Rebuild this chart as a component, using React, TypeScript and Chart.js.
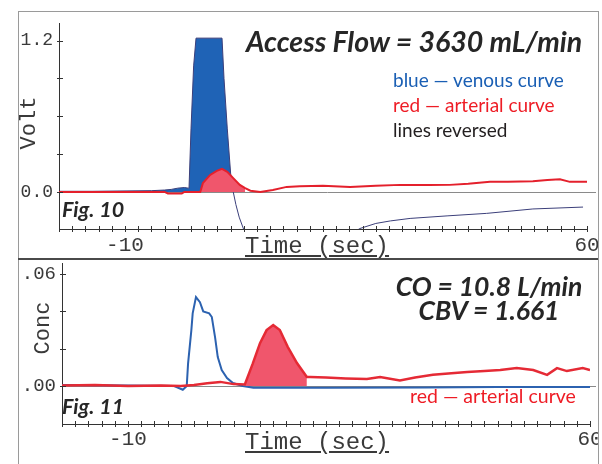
import React, { useEffect, useRef } from "react";
import { Chart, registerables } from "chart.js";

Chart.register(...registerables);

// ---------- data ----------
const X_TICKS = [-20, -18, -16, -14, -12, -10, -8, -6, -4, -2, 0, 2, 4, 6, 8, 10, 12, 14, 16, 18, 20, 22, 24, 26, 28, 30, 32, 34, 36, 38, 40, 42, 44, 46, 48, 50, 52, 54, 56, 58, 60];
const X_LABELS = [-10, 60];

const Y1_TICKS = [0, 0.3, 0.6, 0.9, 1.2];
const Y1_LABELS: Record<string, string> = { "0": "0.0", "1.2": "1.2" };
const Y2_TICKS = [0, 0.02, 0.04, 0.06];
const Y2_LABELS: Record<string, string> = { "0": ".00", "0.06": ".06" };

// Fig. 10 — venous (blue) curve, Volt
const VEN1_T = [-20, -15, -10, -6, -4, -3, -2, -1, -0.4, -0.3, 0.0, 0.4, 0.76, 4.7, 5.0, 5.5, 6.0, 6.2, 6.4, 6.8, 7.3, 8.0, 9.0, 12, 20, 24, 25.6, 28, 30.2, 33.2, 38.8, 44.8, 51.8, 59.4];
const VEN1_V = [0.005, 0.005, 0.008, 0.01, 0.015, 0.02, 0.03, 0.035, 0.03, 0.03, 0.5, 1.0, 1.22, 1.22, 0.9, 0.5, 0.15, 0.05, 0.0, -0.1, -0.2, -0.3, -0.45, -0.6, -0.5, -0.34, -0.29, -0.25, -0.23, -0.21, -0.19, -0.17, -0.135, -0.12];

// Fig. 10 — arterial (red) curve, Volt
const ART1_T = [-20, -10, -4, -3.5, -1.4, -1, 1.4, 1.8, 2.9, 3.9, 4.7, 5.5, 6.4, 7.4, 8.2, 9.0, 10.5, 12.4, 14.5, 16.5, 20, 24.1, 28, 31.7, 36, 39.2, 42, 45.3, 48, 51.8, 54, 55.9, 57.4, 60];
const ART1_V = [0.0, 0.0, 0.0, -0.012, -0.012, 0.0, 0.0, 0.07, 0.135, 0.167, 0.183, 0.16, 0.11, 0.056, 0.03, 0.01, 0.0, 0.016, 0.04, 0.045, 0.05, 0.04, 0.05, 0.056, 0.055, 0.056, 0.065, 0.08, 0.08, 0.085, 0.095, 0.1, 0.08, 0.08];
const ART1_FILL_FROM = 1.4;
const ART1_FILL_TO = 8.2;

// Fig. 11 — venous (blue) curve, Conc
const VEN2_T = [-20, -10, -3, -1.7, -1.1, -0.9, -0.4, -0.2, 0.3, 0.9, 1.4, 2.3, 2.7, 3.2, 3.6, 4.2, 5.0, 5.9, 7.4, 9, 20, 35, 46, 60];
const VEN2_V = [0.0005, 0.0003, 0.0, -0.002, 0.0, 0.012, 0.03, 0.039, 0.0477, 0.045, 0.04, 0.039, 0.037, 0.026, 0.0155, 0.0086, 0.0043, 0.0016, 0.0, -0.001, -0.001, -0.0008, -0.0005, -0.0005];

// Fig. 11 — arterial (red) curve, Conc
const ART2_T = [-20, -15, -10, -5, -2, 0, 2, 4, 6, 7.7, 8.9, 10, 11, 12, 13, 14.2, 15.6, 17.1, 17.6, 20, 23, 26.2, 28.2, 31.2, 33.5, 36.2, 39, 41.4, 44, 46.4, 48.9, 51.4, 53.5, 55, 56.5, 58.9, 60];
const ART2_V = [0.0003, 0.0005, 0.0, 0.0002, 0.0, 0.0005, 0.0015, 0.0022, 0.001, 0.0008, 0.012, 0.023, 0.03, 0.0327, 0.03, 0.021, 0.0123, 0.0048, 0.0048, 0.0045, 0.004, 0.0037, 0.0048, 0.003, 0.0045, 0.006, 0.0068, 0.0075, 0.008, 0.0086, 0.0096, 0.0086, 0.006, 0.0096, 0.008, 0.0096, 0.0086];
const ART2_FILL_FROM = 7.7;
const ART2_FILL_TO = 17.1;

// ---------- helpers ----------
const pts = (t: number[], v: number[]) => t.map((x, i) => ({ x, y: v[i] }));
const ptsRange = (t: number[], v: number[], a: number, b: number) =>
  pts(t, v).filter((p) => p.x >= a && p.x <= b);

const MONO = '"Liberation Mono", "DejaVu Sans Mono", monospace';
const SANS = 'Lato, "Open Sans", sans-serif';

const decorPlugin = {
  id: "decor",
  beforeDatasetsDraw(chart: any) {
    const { ctx, chartArea } = chart;
    const ys = chart.scales.y;
    const y = Math.round(ys.getPixelForValue(0)) + 0.5;
    ctx.save();
    ctx.strokeStyle = "#8a8a8a";
    ctx.lineWidth = 1;
    ctx.beginPath();
    ctx.moveTo(chartArea.left, y);
    ctx.lineTo(chart.width - 2, y);
    ctx.stroke();
    ctx.restore();
  },
  afterDraw(chart: any) {
    const { ctx, chartArea } = chart;
    const xs = chart.scales.x;
    const ys = chart.scales.y;
    ctx.save();
    ctx.strokeStyle = "#333";
    ctx.lineWidth = 1;
    ctx.beginPath();
    xs.ticks.forEach((t: any) => {
      const px = Math.round(xs.getPixelForValue(t.value)) + 0.5;
      ctx.moveTo(px, chartArea.bottom - 3);
      ctx.lineTo(px, chartArea.bottom + 3);
    });
    ys.ticks.forEach((t: any) => {
      const py = Math.round(ys.getPixelForValue(t.value)) + 0.5;
      ctx.moveTo(chartArea.left - 2, py);
      ctx.lineTo(chartArea.left + 4, py);
    });
    ctx.stroke();
    ctx.restore();
  },
};

function makeConfig(opts: {
  datasets: any[];
  yMin: number;
  yMax: number;
  yTicks: number[];
  yLabels: Record<string, string>;
  yWidth: number;
  xHeight: number;
  padTop: number;
  padRight: number;
  yFont: number;
  xPad: number;
}) {
  return {
    type: "line",
    data: { datasets: opts.datasets },
    options: {
      animation: false,
      responsive: false,
      devicePixelRatio: 1,
      layout: { padding: { top: opts.padTop, right: opts.padRight, left: 0, bottom: 0 } },
      plugins: { legend: { display: false }, tooltip: { enabled: false } },
      elements: { point: { radius: 0 }, line: { tension: 0 } },
      scales: {
        x: {
          type: "linear",
          min: -20,
          max: 60,
          afterBuildTicks: (s: any) => {
            s.ticks = X_TICKS.map((v) => ({ value: v }));
          },
          afterFit: (s: any) => {
            s.height = opts.xHeight;
            s.paddingLeft = 0;
            s.paddingRight = 0;
          },
          ticks: {
            autoSkip: false,
            maxRotation: 0,
            padding: opts.xPad,
            color: "#3a3a3a",
            font: { family: MONO, size: 21 },
            callback: (v: any) => (X_LABELS.includes(Number(v)) ? String(v) : ""),
          },
          grid: { display: true, drawOnChartArea: false, drawTicks: false },
          border: { display: true, color: "#333", width: 1 },
        },
        y: {
          type: "linear",
          min: opts.yMin,
          max: opts.yMax,
          afterBuildTicks: (s: any) => {
            s.ticks = opts.yTicks.map((v) => ({ value: v }));
          },
          afterFit: (s: any) => {
            s.width = opts.yWidth;
            s.paddingTop = 0;
            s.paddingBottom = 0;
          },
          ticks: {
            padding: 6,
            color: "#3a3a3a",
            font: { family: MONO, size: opts.yFont },
            callback: (v: any) => opts.yLabels[String(Number(Number(v).toFixed(4)))] ?? "",
          },
          grid: { display: true, drawOnChartArea: false, drawTicks: false },
          border: { display: true, color: "#333", width: 1 },
        },
      },
    },
    plugins: [decorPlugin],
  } as any;
}

function ChartCanvas({ config, style, w, h }: { config: any; style: React.CSSProperties; w: number; h: number }) {
  const ref = useRef<HTMLCanvasElement>(null);
  useEffect(() => {
    if (!ref.current) return;
    const c = new Chart(ref.current, config);
    return () => c.destroy();
  }, []);
  return <canvas ref={ref} width={w} height={h} style={{ position: "absolute", width: w, height: h, ...style }} />;
}

const BLUE_FILL = "#1f63b6";
const RED_FILL = "#f0566c";

export default function App() {
  const cfg1 = makeConfig({
    datasets: [
      { label: "arterial", data: pts(ART1_T, ART1_V), borderColor: "#e4202c", borderWidth: 2, fill: false },
      {
        label: "arterial area",
        data: ptsRange(ART1_T, ART1_V, ART1_FILL_FROM, ART1_FILL_TO),
        borderWidth: 0,
        borderColor: "rgba(0,0,0,0)",
        backgroundColor: RED_FILL,
        fill: "origin",
      },
      {
        label: "venous",
        data: pts(VEN1_T, VEN1_V),
        borderColor: "#3b3f7a",
        borderWidth: 1,
        fill: { target: "origin", above: BLUE_FILL, below: "rgba(0,0,0,0)" },
      },
    ],
    yMin: -0.294,
    yMax: 1.34,
    yTicks: Y1_TICKS,
    yLabels: Y1_LABELS,
    yWidth: 41,
    xHeight: 29,
    padTop: 12,
    padRight: 11,
    yFont: 18,
    xPad: 4,
  });

  const cfg2 = makeConfig({
    datasets: [
      { label: "arterial", data: pts(ART2_T, ART2_V), borderColor: "#e52a35", borderWidth: 2.5, fill: false },
      {
        label: "arterial area",
        data: ptsRange(ART2_T, ART2_V, ART2_FILL_FROM, ART2_FILL_TO),
        borderWidth: 0,
        borderColor: "rgba(0,0,0,0)",
        backgroundColor: RED_FILL,
        fill: "origin",
      },
      { label: "venous", data: pts(VEN2_T, VEN2_V), borderColor: "#2c62b0", borderWidth: 2, fill: false },
    ],
    yMin: -0.0204,
    yMax: 0.066,
    yTicks: Y2_TICKS,
    yLabels: Y2_LABELS,
    yWidth: 44,
    xHeight: 40,
    padTop: 3,
    padRight: 8,
    yFont: 19,
    xPad: 3,
  });

  const txt = (extra: React.CSSProperties): React.CSSProperties => ({
    position: "absolute",
    lineHeight: 1,
    whiteSpace: "nowrap",
    margin: 0,
    ...extra,
  });

  return (
    <div style={{ position: "fixed", left: 0, top: 0, width: 602, height: 464, background: "#fff", overflow: "hidden" }}>
      {/* frame */}
      <div style={{ position: "absolute", left: 18, top: 11, width: 579, height: 460, borderLeft: "1px solid #9a9a9a", borderTop: "1px solid #9a9a9a", borderRight: "1px solid #9a9a9a" }} />
      <ChartCanvas config={cfg1} w={580} h={247} style={{ left: 18, top: 11 }} />
      <div style={{ position: "absolute", left: 18, top: 258, width: 580, height: 2, background: "#4a4a4a" }} />
      <ChartCanvas config={cfg2} w={580} h={204} style={{ left: 18, top: 260 }} />

      {/* axis titles */}
      <div style={txt({ left: 30, top: 123, fontFamily: MONO, fontSize: 22, color: "#3a3a3a", transform: "translate(-50%,-50%) rotate(-90deg)" })}>Volt</div>
      <div style={txt({ left: 43.5, top: 328, fontFamily: MONO, fontSize: 22, color: "#3a3a3a", transform: "translate(-50%,-50%) rotate(-90deg)" })}>Conc</div>
      <div style={txt({ left: 245, top: 235, fontFamily: MONO, fontSize: 24, color: "#3a3a3a", textDecoration: "underline" })}>Time (sec)</div>
      <div style={txt({ left: 245, top: 431, fontFamily: MONO, fontSize: 24, color: "#3a3a3a", textDecoration: "underline" })}>Time (sec)</div>

      {/* annotations */}
      <div style={txt({ left: 246, top: 27, fontFamily: SANS, fontSize: 28.5, fontWeight: 700, fontStyle: "italic", color: "#262626" })}>Access Flow = 3630 mL/min</div>
      <div style={txt({ left: 393, top: 70, fontFamily: SANS, fontSize: 19, color: "#1a5fb4" })}>blue — venous curve</div>
      <div style={txt({ left: 393, top: 95, fontFamily: SANS, fontSize: 19, color: "#ee1c25" })}>red — arterial curve</div>
      <div style={txt({ left: 393, top: 120, fontFamily: SANS, fontSize: 19, color: "#231f20" })}>lines reversed</div>
      <div style={txt({ left: 62, top: 199, fontFamily: SANS, fontSize: 21.5, fontWeight: 700, fontStyle: "italic", color: "#262626" })}>Fig. 10</div>

      <div style={txt({ left: 389, width: 200, textAlign: "center", top: 273, fontFamily: SANS, fontSize: 26.5, fontWeight: 700, fontStyle: "italic", color: "#262626" })}>CO = 10.8 L/min</div>
      <div style={txt({ left: 389, width: 200, textAlign: "center", top: 297, fontFamily: SANS, fontSize: 26.5, fontWeight: 700, fontStyle: "italic", color: "#262626" })}>CBV = 1.661</div>
      <div style={txt({ left: 62, top: 396, fontFamily: SANS, fontSize: 21.5, fontWeight: 700, fontStyle: "italic", color: "#262626" })}>Fig. 11</div>
      <div style={txt({ left: 410, top: 386, fontFamily: SANS, fontSize: 19.5, color: "#ee1c25" })}>red — arterial curve</div>
    </div>
  );
}
